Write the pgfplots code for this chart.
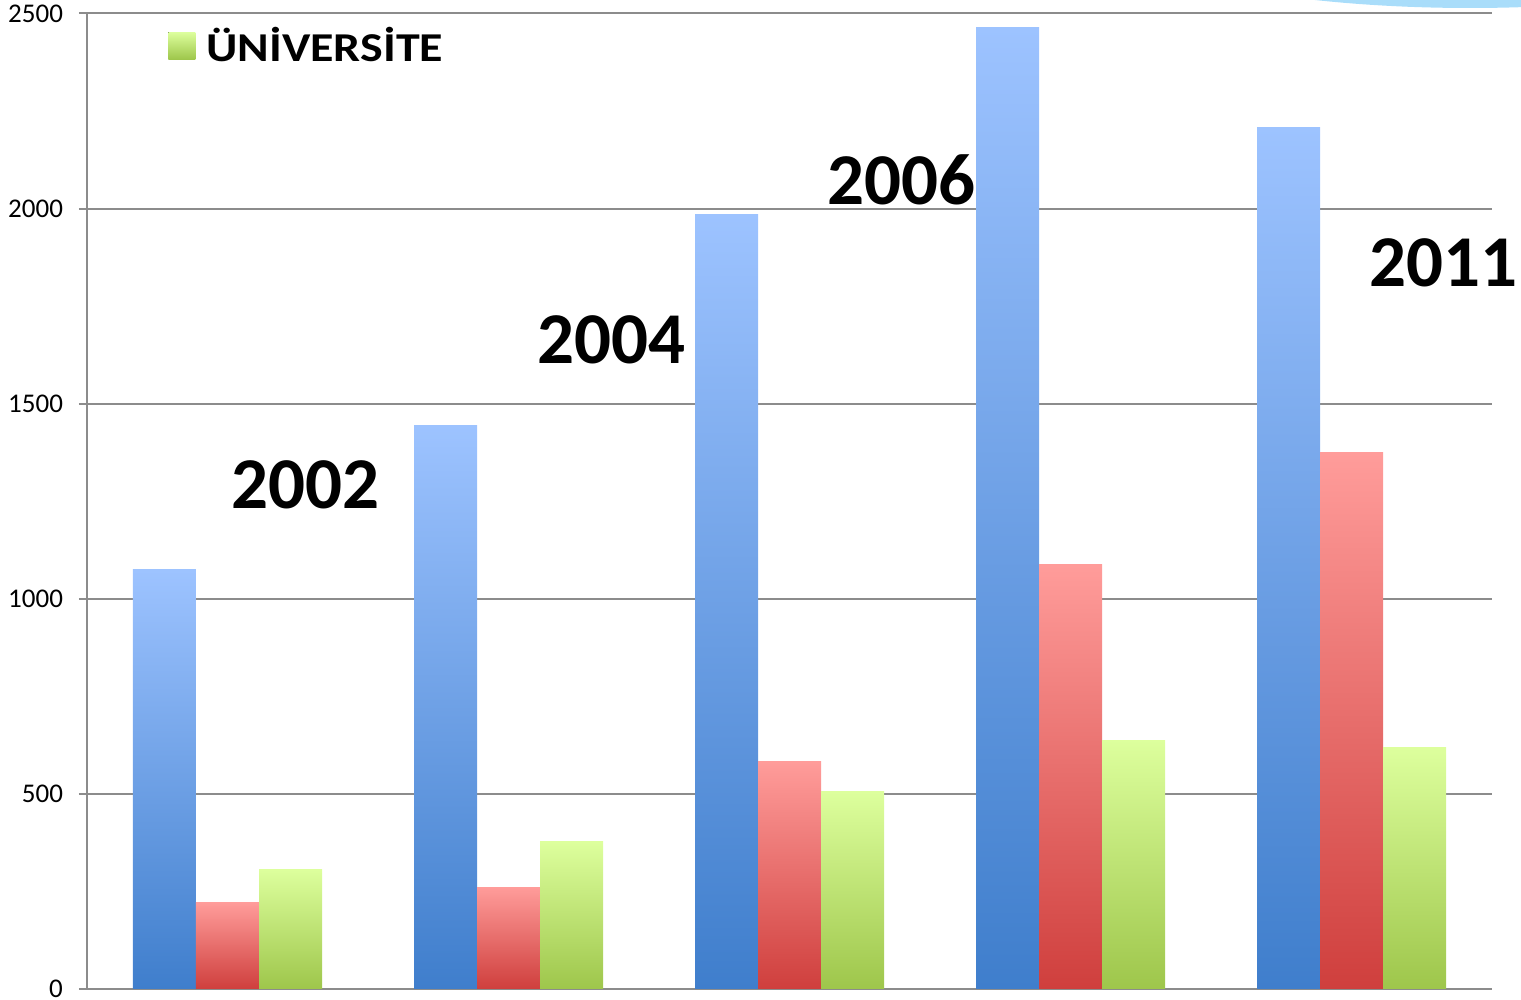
\documentclass[border=0pt]{standalone}
\usepackage{pgfplots}
\pgfplotsset{compat=1.18}
\usepackage{fontspec}
\setmainfont{Carlito}
\newfontfamily\legfont[FakeStretch=1.17]{Carlito}
\definecolor{gridgray}{HTML}{8C8C8C}
\definecolor{bluetop}{HTML}{9DC3FF}
\definecolor{bluebot}{HTML}{3F7ECC}
\definecolor{redtop}{HTML}{FF9C9A}
\definecolor{redbot}{HTML}{CF3F3D}
\definecolor{greentop}{HTML}{DDFF9D}
\definecolor{greenbot}{HTML}{9EC64B}
\definecolor{decoblue}{HTML}{A9DDFA}
\pgfplotsset{
  blueb/.style={draw=none, top color=bluetop, bottom color=bluebot, bar shift=-31.5pt, forget plot},
  redb/.style={draw=none, top color=redtop, bottom color=redbot, bar shift=0pt, forget plot},
  greenb/.style={draw=none, top color=greentop, bottom color=greenbot, bar shift=31.5pt, forget plot},
}
\begin{document}
\begin{tikzpicture}
\begin{axis}[name=ax, scale only axis, width=702.5pt, height=487.75pt,
  ybar=0pt, bar width=31.5pt, clip=false,
  xmin=-0.5, xmax=4.5, ymin=0, ymax=2500,
  xtick=\empty, ytick={0,500,1000,1500,2000,2500},
  ymajorgrids, grid style={line width=1pt, color=gridgray},
  axis lines*=left,
  axis line style={line width=1pt, color=gridgray},
  tick align=outside, major tick length=4pt,
  tick style={gridgray, line width=1pt},
  yticklabel style={font=\fontsize{13.5}{15}\selectfont, xshift=-4.5pt, inner ysep=0pt},
  /pgf/number format/assume math mode=true,
  /pgf/number format/set thousands separator={},
  legend style={draw=none, fill=none, at={(0.0577,0.967)}, anchor=west,
    inner sep=0pt, font=\legfont\bfseries\fontsize{20.5}{24}\selectfont},
  legend image code/.code={\fill[#1, draw=none] (0pt,-6.75pt) rectangle (13.5pt,6.75pt); \path (17pt,0pt);},
]
% blue series
\addplot[blueb] coordinates {(0,1074)};
\addplot[blueb] coordinates {(1,1443)};
\addplot[blueb] coordinates {(2,1986)};
\addplot[blueb] coordinates {(3,2465)};
\addplot[blueb] coordinates {(4,2209)};
% red series
\addplot[redb] coordinates {(0,221)};
\addplot[redb] coordinates {(1,261)};
\addplot[redb] coordinates {(2,582)};
\addplot[redb] coordinates {(3,1087)};
\addplot[redb] coordinates {(4,1374)};
% green series
\addplot[greenb] coordinates {(0,307)};
\addplot[greenb] coordinates {(1,377)};
\addplot[greenb] coordinates {(2,505)};
\addplot[greenb] coordinates {(3,638)};
\addplot[greenb] coordinates {(4,618)};
\addlegendimage{draw=none, top color=greentop, bottom color=greenbot}
\addlegendentry{ÜNİVERSİTE}
\node[font=\bfseries\fontsize{36.5}{40}\selectfont] at (axis cs:0.276,1292) {2002};
\node[font=\bfseries\fontsize{36.5}{40}\selectfont] at (axis cs:1.368,1663) {2004};
\node[font=\bfseries\fontsize{36.5}{40}\selectfont] at (axis cs:2.397,2073) {2006};
\node[font=\bfseries\fontsize{36.5}{40}\selectfont] at (axis cs:4.326,1861) {2011};
\end{axis}
\fill[decoblue] ([shift={(-11pt,56.75pt)}]ax.north east) ellipse [x radius=205pt, y radius=54pt];
\pgfresetboundingbox
\path[use as bounding box] ([shift={(-43.5pt,-5.5pt)}]ax.south west) rectangle ([shift={(14.5pt,6.75pt)}]ax.north east);
\end{tikzpicture}
\end{document}
